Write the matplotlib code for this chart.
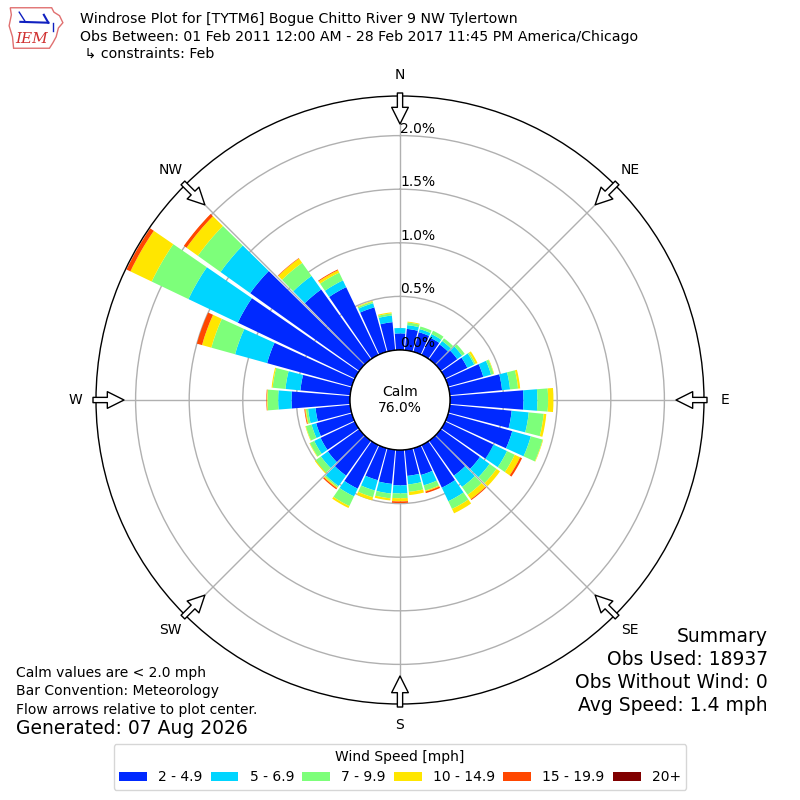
import numpy as np
import matplotlib
matplotlib.use("Agg")
import matplotlib.pyplot as plt
from matplotlib.patches import Circle, Polygon

# ---------------- data (percent of observations) ----------------
directions = list(range(0, 360, 10))
bin_labels = ["2 - 4.9", "5 - 6.9", "7 - 9.9", "10 - 14.9", "15 - 19.9", "20+"]
spd_2_5 = [0.155, 0.20, 0.19, 0.18, 0.17, 0.19, 0.23, 0.34, 0.49, 0.685,
           0.58, 0.62, 0.50, 0.45, 0.40, 0.44, 0.26, 0.245, 0.33, 0.32,
           0.31, 0.45, 0.40, 0.36, 0.355, 0.345, 0.325, 0.545, 0.467, 0.82,
           1.21, 1.25, 0.80, 0.70, 0.43, 0.263]
spd_5_7 = [0.05, 0.035, 0.03, 0.035, 0.04, 0.055, 0.07, 0.075, 0.075, 0.13,
           0.16, 0.18, 0.14, 0.11, 0.13, 0.14, 0.10, 0.08, 0.075, 0.09,
           0.10, 0.08, 0.12, 0.08, 0.065, 0.045, 0.07, 0.125, 0.14, 0.31,
           0.51, 0.34, 0.155, 0.07, 0.04, 0.062]
spd_7_10 = [0.0, 0.025, 0.025, 0.035, 0.03, 0.03, 0.015, 0.025, 0.075, 0.10,
            0.14, 0.115, 0.08, 0.08, 0.09, 0.08, 0.05, 0.07, 0.045, 0.045,
            0.065, 0.10, 0.015, 0.06, 0.045, 0.055, 0.02, 0.10, 0.12, 0.23,
            0.38, 0.26, 0.15, 0.08, 0.015, 0.02]
spd_10_15 = [0.0, 0.008, 0.0, 0.0, 0.0, 0.0, 0.02, 0.005, 0.02, 0.05,
             0.025, 0.005, 0.055, 0.04, 0.05, 0.045, 0.01, 0.03, 0.03, 0.02,
             0.03, 0.02, 0.01, 0.01, 0.005, 0.005, 0.008, 0.005, 0.01, 0.09,
             0.22, 0.13, 0.05, 0.025, 0.007, 0.01]
spd_15_20 = [0.0, 0.0, 0.0, 0.0, 0.0, 0.0, 0.0, 0.0, 0.0, 0.0,
             0.0, 0.0, 0.02, 0.0, 0.01, 0.0, 0.015, 0.0, 0.015, 0.0,
             0.0, 0.0, 0.012, 0.0, 0.0, 0.0, 0.007, 0.005, 0.0, 0.05,
             0.04, 0.03, 0.005, 0.008, 0.0, 0.0]
spd_20p = [0.0] * 36
calm_pct = 76.0

title_lines = ["Windrose Plot for [TYTM6] Bogue Chitto River 9 NW Tylertown",
               "Obs Between: 01 Feb 2011 12:00 AM - 28 Feb 2017 11:45 PM America/Chicago",
               " \u21b3 constraints: Feb"]
left_notes = ["Calm values are < 2.0 mph", "Bar Convention: Meteorology",
              "Flow arrows relative to plot center."]
generated = "Generated: 07 Aug 2026"
summary = ["Summary", "Obs Used: 18937", "Obs Without Wind: 0", "Avg Speed: 1.4 mph"]
compass = ["N", "NE", "E", "SE", "S", "SW", "W", "NW"]
ring_vals = [0.0, 0.5, 1.0, 1.5, 2.0]

# ---------------- figure ----------------
fig = plt.figure(figsize=(8, 8), dpi=100)
ax = fig.add_axes([0.12, 0.12, 0.76, 0.76], projection="polar")
ax.set_theta_zero_location("N")
ax.set_theta_direction(-1)

series = [spd_2_5, spd_5_7, spd_7_10, spd_10_15, spd_15_20, spd_20p]
colors = plt.cm.jet(np.linspace(0, 1, 7)[1:])
theta = np.deg2rad(directions)
totals = np.sum(np.array(series), axis=0)
rmax = totals.max() * 1.004
R_px = 304.0
hole_px = 50.0
rorigin = -rmax * hole_px / (R_px - hole_px)
ax.set_ylim(0, rmax)
ax.set_rorigin(rorigin)


def px2r(px):
    return rorigin + (rmax - rorigin) * px / R_px


bottom = np.zeros(len(directions))
handles = []
for vals, col, lab in zip(series, colors, bin_labels):
    vals = np.array(vals)
    h = ax.bar(theta, vals, width=np.deg2rad(9.0), bottom=bottom, color=col,
               align="center", linewidth=0, label=lab, zorder=2)
    handles.append(h)
    bottom = bottom + vals

ax.set_yticks([0.5, 1.0, 1.5, 2.0])
ax.set_yticklabels([])
ax.set_xticks(np.deg2rad(np.arange(0, 360, 45)))
ax.set_xticklabels([])
ax.grid(True, color="#b0b0b0", linewidth=1.0, zorder=1)
ax.set_axisbelow(True)
ax.spines["polar"].set_color("black")
ax.spines["polar"].set_linewidth(1.0)
if "inner" in ax.spines:
    ax.spines["inner"].set_color("black")

for v in ring_vals:
    ax.text(0, v, f"{v:.1f}%", ha="left", va="bottom", fontsize=10, zorder=8)

# compass labels and inward arrows
for i, name in enumerate(compass):
    t = np.deg2rad(i * 45)
    ax.text(t, px2r(325), name, ha="center", va="center", fontsize=10,
            clip_on=False)
    ax.annotate("", xy=(t, px2r(276)), xytext=(t, px2r(307)),
                arrowprops=dict(arrowstyle="simple,head_length=1.2,head_width=1.2,tail_width=0.38",
                                fc="white", ec="black", lw=1.0,
                                shrinkA=0, shrinkB=0),
                annotation_clip=False, zorder=9)

# calm circle
calm = Circle((0.5, 0.5), hole_px / (2 * R_px), transform=ax.transAxes,
              facecolor="white", edgecolor="black", linewidth=1.0, zorder=6,
              clip_on=False)
ax.add_artist(calm)
ax.text(0.5, 0.5, f"Calm\n{calm_pct:.1f}%", transform=ax.transAxes,
        ha="center", va="center", fontsize=10, zorder=7, linespacing=1.2)

# titles
for i, line in enumerate(title_lines):
    fig.text(80 / 800, 1 - (19 + 17.5 * i) / 800, line, ha="left", va="center",
             fontsize=10.15)

# bottom-left notes
for i, line in enumerate(left_notes):
    fig.text(16 / 800, 1 - (673 + 18.5 * i) / 800, line, ha="left",
             va="center", fontsize=10)
fig.text(16 / 800, 1 - 729 / 800, generated, ha="left", va="center",
         fontsize=13.5)

# summary
for i, line in enumerate(summary):
    fig.text(768 / 800, 1 - (636 + 23.3 * i) / 800, line, ha="right",
             va="center", fontsize=13.5)

# legend
fig.legend(handles=handles, labels=bin_labels, loc="lower center",
           bbox_to_anchor=(0.5, 10 / 800), borderaxespad=0, ncol=6,
           title="Wind Speed [mph]", fontsize=10, title_fontsize=10,
           handlelength=2.0, handletextpad=0.8, columnspacing=0.6)

# simple IEM logo
lax = fig.add_axes([8 / 800, 1 - 50 / 800, 56 / 800, 44 / 800])
lax.set_xlim(0, 1)
lax.set_ylim(0, 1)
lax.axis("off")
outline = [(0.04, 0.96), (0.78, 0.96), (0.82, 0.86), (0.92, 0.78), (0.98, 0.62),
           (0.90, 0.50), (0.86, 0.30), (0.80, 0.16), (0.74, 0.04), (0.10, 0.04),
           (0.08, 0.30), (0.02, 0.55), (0.06, 0.80)]
lax.add_patch(Polygon(outline, closed=True, fill=False, edgecolor="#e07070",
                      linewidth=1.0))
lax.plot([0.22, 0.72], [0.64, 0.62], color="#1020c0", lw=1.5)
lax.plot([0.72, 0.64], [0.62, 0.80], color="#1020c0", lw=1.5)
lax.plot([0.20, 0.30], [0.86, 0.66], color="#1020c0", lw=1.0)
lax.plot([0.80, 0.80], [0.62, 0.44], color="#1020c0", lw=1.0)
lax.text(0.42, 0.26, "IEM", ha="center", va="center", fontsize=11,
         color="#d03030", family="DejaVu Serif", style="italic")

fig.savefig("out.png", dpi=100)
